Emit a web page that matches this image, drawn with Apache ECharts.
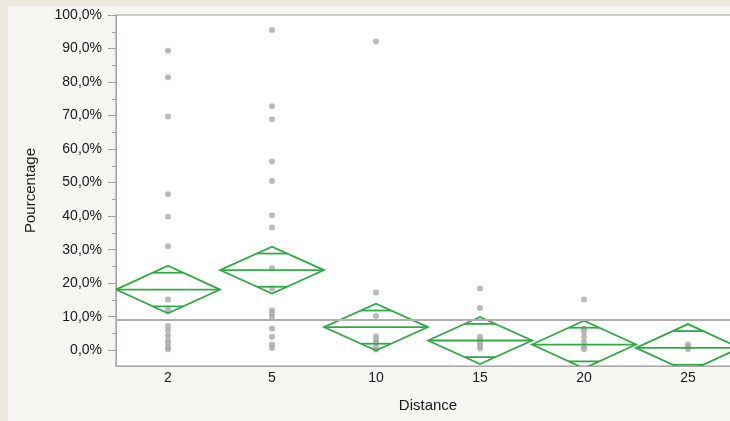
<!DOCTYPE html>
<html>
<head>
<meta charset="utf-8">
<script src="https://cdn.jsdelivr.net/npm/echarts@6/dist/echarts.min.js"></script>
<style>
  html, body { margin: 0; padding: 0; background: #ece9df; overflow: hidden; width: 730px; height: 421px; }
  #panel { position: absolute; left: 8px; top: 6px; width: 722px; height: 415px; background: #f7f6f2; }
  #chart { position: absolute; left: 0; top: 0; width: 760px; height: 421px; }
</style>
</head>
<body>
<div id="panel"></div>
<div id="chart"></div>
<script>
// Distance groups on the x axis
const categories = ['2', '5', '10', '15', '20', '25'];

// Individual observations (%) per distance group
const obs2  = [89.3, 81.4, 69.7, 46.5, 39.8, 31.0, 15.1, 12.1, 7.2, 6.0, 4.5, 3.0, 2.0, 1.0, 0.3];
const obs5  = [95.5, 72.8, 68.9, 56.3, 50.5, 40.3, 36.6, 24.5, 18.4, 11.9, 10.9, 9.9, 6.5, 4.0, 1.7, 0.7];
const obs10 = [92.1, 17.2, 10.2, 4.2, 3.2, 2.2, 1.0, 0.2];
const obs15 = [18.4, 12.6, 4.0, 3.2, 2.2, 1.3, 0.5];
const obs20 = [15.1, 6.5, 5.5, 4.0, 2.5, 1.0, 0.3];
const obs25 = [1.8, 1.0, 0.3];

// Group means and 95% confidence half-widths (%) for the means diamonds
const groupMeans = [18.1, 23.9, 6.9, 2.9, 1.7, 0.7];
const ciHalf     = [7.1, 7.0, 7.0, 7.0, 7.1, 7.1];

// Overall mean reference line (%)
const grandMean = 9.0;

// Axis ticks
const majorTicks = [0, 10, 20, 30, 40, 50, 60, 70, 80, 90, 100];
const minorTicks = [5, 15, 25, 35, 45, 55, 65, 75, 85, 95];

const groups = [obs2, obs5, obs10, obs15, obs20, obs25];
const points = [];
groups.forEach((arr, i) => arr.forEach(v => points.push([i, v])));

const diamonds = groupMeans.map((m, i) => [i, m, ciHalf[i]]);

const FONT = '"Liberation Sans", Arial, sans-serif';
const GREEN = '#33a847';

function renderDiamond(params, api) {
  const i = api.value(0), m = api.value(1), ci = api.value(2);
  const c = api.coord([i, m]);
  const top = api.coord([i, m + ci]);
  const bot = api.coord([i, m - ci]);
  const half = api.size([1, 0])[0] / 2;
  const k = 1 / Math.SQRT2;
  const oTop = api.coord([i, m + ci * k])[1];
  const oBot = api.coord([i, m - ci * k])[1];
  const ow = half * (1 - k);
  const style = { stroke: GREEN, lineWidth: 1.8, fill: null };
  return {
    type: 'group',
    children: [
      { type: 'polygon', shape: { points: [[c[0] - half, c[1]], [c[0], top[1]], [c[0] + half, c[1]], [c[0], bot[1]]] }, style },
      { type: 'line', shape: { x1: c[0] - half, y1: c[1], x2: c[0] + half, y2: c[1] }, style },
      { type: 'line', shape: { x1: c[0] - ow, y1: oTop, x2: c[0] + ow, y2: oTop }, style },
      { type: 'line', shape: { x1: c[0] - ow, y1: oBot, x2: c[0] + ow, y2: oBot }, style }
    ]
  };
}

const fmt = v => v.toFixed(1).replace('.', ',') + '%';

const chart = echarts.init(document.getElementById('chart'), null, { renderer: 'canvas' });
chart.setOption({
  backgroundColor: 'transparent',
  animation: false,
  grid: {
    left: 116, top: 15, width: 624, height: 351,
    show: true, backgroundColor: '#ffffff', borderColor: '#999999', borderWidth: 1.2
  },
  xAxis: {
    type: 'category',
    data: categories,
    boundaryGap: true,
    axisLine: { onZero: false, lineStyle: { color: '#a8a8a8', width: 1 } },
    axisTick: { length: 6, lineStyle: { color: '#a0a0a0' } },
    axisLabel: { margin: 5, fontSize: 14, color: '#1a1a1a', fontFamily: FONT },
    name: 'Distance',
    nameLocation: 'middle',
    nameGap: 32,
    nameTextStyle: { fontSize: 15, color: '#1a1a1a', fontFamily: FONT }
  },
  yAxis: [
    {
      type: 'value',
      min: -4.7, max: 100,
      axisLine: { show: true, lineStyle: { color: '#a8a8a8', width: 1 } },
      axisTick: { show: true, length: 8, customValues: majorTicks, lineStyle: { color: '#a0a0a0' } },
      axisLabel: { customValues: majorTicks, formatter: fmt, margin: 14, fontSize: 14, color: '#1a1a1a', fontFamily: FONT },
      splitLine: { show: false },
      name: 'Pourcentage',
      nameLocation: 'middle',
      nameGap: 78,
      nameRotate: 90,
      nameTextStyle: { fontSize: 15, color: '#1a1a1a', fontFamily: FONT }
    },
    {
      type: 'value',
      min: -4.7, max: 100,
      position: 'left',
      axisLine: { show: false },
      axisTick: { show: true, length: 4, customValues: minorTicks, lineStyle: { color: '#a0a0a0' } },
      axisLabel: { show: false },
      splitLine: { show: false }
    }
  ],
  series: [
    {
      type: 'scatter',
      yAxisIndex: 0,
      data: points,
      symbolSize: 6,
      itemStyle: { color: '#a9a9a9' },
      silent: true,
      z: 2,
      markLine: {
        silent: true,
        symbol: 'none',
        label: { show: false },
        lineStyle: { color: '#b0b0b0', width: 2, type: 'solid' },
        data: [{ yAxis: grandMean }]
      }
    },
    {
      type: 'custom',
      yAxisIndex: 0,
      data: diamonds,
      renderItem: renderDiamond,
      clip: true,
      silent: true,
      z: 3
    }
  ]
});
</script>
</body>
</html>
